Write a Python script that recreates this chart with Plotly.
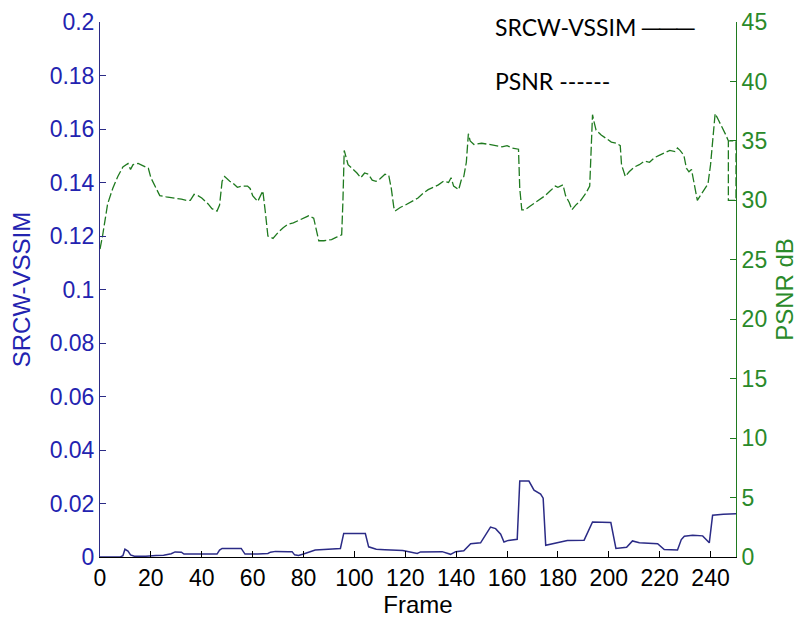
import plotly.graph_objects as go

# SRCW-VSSIM (left axis)
vssim_frames = [0, 8, 9, 9.8, 11, 12, 13.5, 18, 22, 25, 28, 29.5, 32, 33, 40, 46, 47, 48, 55.5, 57,
                62, 66, 67, 69, 74, 75.5, 76.5, 78, 80, 82, 84.6, 88, 92, 94.5, 95.8, 104.3, 105.6,
                108.6, 112, 116, 119, 121.4, 124.7, 126, 130, 134.5, 137.8, 139.8, 143, 145.7, 149.6,
                151.5, 153.5, 155.5, 157.5, 158.8, 160.5, 164, 165, 168.6, 170.6, 173.2, 174.2, 175.2,
                179.8, 181, 183.7, 190.3, 192, 193.6, 200.8, 202.8, 207, 209.3, 212, 219.2, 221.8, 227,
                228.5, 229.7, 233, 236.9, 239.5, 240.8, 245, 249.3, 250]
vssim_values = [0, 0, 0.0005, 0.0029, 0.0022, 0.0008, 0.0003, 0.0003, 0.0006, 0.0007, 0.0012, 0.0019,
                0.0018, 0.0011, 0.0011, 0.0011, 0.0026, 0.0032, 0.0032, 0.0011, 0.0011, 0.0013, 0.0018,
                0.0021, 0.002, 0.002, 0.0008, 0.0006, 0.0011, 0.0018, 0.0026, 0.0028, 0.003, 0.0032,
                0.0088, 0.0088, 0.0038, 0.0029, 0.0027, 0.0026, 0.0024, 0.002, 0.0013, 0.0019, 0.002,
                0.002, 0.001, 0.002, 0.0023, 0.005, 0.0053, 0.008, 0.0112, 0.0106, 0.0085, 0.0056,
                0.0062, 0.0066, 0.0284, 0.0284, 0.025, 0.0235, 0.022, 0.0044, 0.0053, 0.0058, 0.0062,
                0.0063, 0.01, 0.0131, 0.0129, 0.0032, 0.0036, 0.006, 0.0053, 0.005, 0.0028, 0.0026,
                0.0065, 0.0078, 0.0081, 0.0079, 0.0053, 0.0156, 0.016, 0.0162, 0.0162]

# PSNR dB (right axis)
psnr_frames = [0, 1, 3, 5, 7, 9, 11, 12, 13, 15, 17, 19, 20, 22, 23.5, 26, 28, 30, 32, 34, 35.5, 37,
               38.5, 40, 42.5, 44, 46, 47, 48, 49, 51, 52, 54, 56, 58, 59, 60, 62, 63, 64, 65, 66, 68,
               70, 72, 74, 76, 78, 80, 82, 84, 85, 86, 88, 91, 93, 95, 95.5, 96, 96.5, 97.5, 99, 101,
               102.5, 104, 105.5, 107, 108.5, 110, 112, 113.5, 114.5, 115.5, 116, 118, 120, 123, 125,
               127, 129, 131, 133, 135, 137, 138, 139, 141, 142, 143, 144, 144.8, 145.5, 147, 150,
               153, 155, 158, 160, 162, 164.5, 165, 165.8, 167, 169, 171, 173, 175, 177, 179, 180,
               182, 183, 184.5, 185.5, 187, 189, 191, 192.5, 193, 193.6, 194.2, 195, 197, 198.5, 200,
               201, 203, 204.5, 205, 206.5, 208, 210, 212, 214, 216, 218, 220, 222, 224, 226, 227,
               228, 229.5, 230.5, 231.5, 232.5, 233, 234, 234.8, 236, 238, 239, 240, 241.2, 241.8,
               243, 244.5, 246, 247, 250, 250, 247, 247]
psnr_values = [25.9, 27, 29.7, 31, 32, 32.8, 33.1, 32.6, 33.0, 33.1, 32.9, 32.7, 31.9, 31, 30.4, 30.3,
               30.25, 30.2, 30.1, 30, 30, 30.5, 30.4, 30.2, 29.7, 29.3, 29.1, 29.6, 31.6, 32, 31.6,
               31.5, 31.1, 31.2, 31.2, 31, 30.4, 29.9, 30.3, 30.8, 29, 27, 26.8, 27.3, 27.7, 28, 28.1,
               28.3, 28.5, 28.7, 28.5, 27.5, 26.6, 26.6, 26.7, 26.9, 27.1, 30, 34.2, 33.8, 33, 32.7,
               32.3, 31.9, 32.3, 32.2, 31.7, 31.6, 31.8, 32.2, 32.1, 31, 29.4, 29.1, 29.4, 29.6, 30,
               30.2, 30.6, 30.9, 31.1, 31.3, 31.6, 31.5, 31.9, 31.2, 30.9, 31.7, 32, 33.2, 35.6, 35,
               34.7, 34.8, 34.7, 34.6, 34.5, 34.6, 34.4, 34.3, 31, 29.2, 29.2, 29.5, 29.8, 30.1, 30.4,
               30.8, 31.2, 31.1, 31.3, 30.4, 29.8, 29.2, 29.6, 30, 30.6, 31.2, 34, 37.2, 36.6, 35.9,
               35.5, 35.3, 35.1, 34.9, 34.8, 34.6, 33, 32, 32.4, 32.8, 33, 33.3, 33.2, 33.6, 33.8, 34,
               34.2, 34.1, 34.4, 34.2, 33.8, 32.7, 32.4, 32.6, 32.1, 31, 30, 30.4, 31, 31.4, 33, 36,
               37.3, 36.8, 36.2, 35.5, 35, 35, 30, 30, 35]

x_ticks = [0, 20, 40, 60, 80, 100, 120, 140, 160, 180, 200, 220, 240]
y1_ticks = [0, 0.02, 0.04, 0.06, 0.08, 0.1, 0.12, 0.14, 0.16, 0.18, 0.2]
y1_labels = ["0", "0.02", "0.04", "0.06", "0.08", "0.1", "0.12", "0.14", "0.16", "0.18", "0.2"]
y2_ticks = [0, 5, 10, 15, 20, 25, 30, 35, 40, 45]

NAVY = "#2b2b86"
BLUE = "#2323b0"
GREEN = "#1f7a1f"
GREEN_TXT = "#2a8a2a"
FONT = "Liberation Sans"

fig = go.Figure()
fig.add_trace(go.Scatter(x=vssim_frames, y=vssim_values, mode="lines",
                         line=dict(color=NAVY, width=1.5), name="SRCW-VSSIM"))
fig.add_trace(go.Scatter(x=psnr_frames, y=psnr_values, mode="lines", yaxis="y2",
                         line=dict(color=GREEN, width=1.3, dash="9px,3px"), name="PSNR"))

fig.update_layout(
    width=794, height=621,
    margin=dict(l=92, r=66, t=14, b=72, autoexpand=False),
    plot_bgcolor="white", paper_bgcolor="white",
    showlegend=False,
    xaxis=dict(range=[0, 250], tickvals=x_ticks, ticks="inside", ticklen=6, tickcolor="black",
               showline=True, linecolor="black", linewidth=1, showgrid=False, zeroline=False,
               automargin=False,
               tickfont=dict(family=FONT, size=23, color="black"),
               title=dict(text="Frame", font=dict(family=FONT, size=24, color="black"), standoff=5)),
    yaxis=dict(range=[0, 0.2], tickvals=y1_ticks, ticktext=y1_labels, ticks="inside", ticklen=6,
               tickcolor=NAVY, showline=True, linecolor=NAVY, linewidth=1, showgrid=False,
               zeroline=False, automargin=False, tickfont=dict(family=FONT, size=23, color=BLUE),
               title=dict(text="SRCW-VSSIM", font=dict(family=FONT, size=24, color=BLUE), standoff=16)),
    yaxis2=dict(range=[0, 45], tickvals=y2_ticks, overlaying="y", side="right", ticks="inside",
                ticklen=6, tickcolor=GREEN, showline=True, linecolor=GREEN, linewidth=1,
                showgrid=False, zeroline=False, automargin=False,
                tickfont=dict(family=FONT, size=23, color=GREEN_TXT),
                title=dict(text="PSNR dB", font=dict(family=FONT, size=24, color=GREEN_TXT), standoff=10)),
    annotations=[
        dict(text="SRCW-VSSIM ───", xref="paper", yref="paper", x=0.618, y=0.99,
             xanchor="left", yanchor="middle", showarrow=False,
             font=dict(family="Lato", size=23, color="black")),
        dict(text="PSNR ------", xref="paper", yref="paper", x=0.618, y=0.889,
             xanchor="left", yanchor="middle", showarrow=False,
             font=dict(family="Lato", size=23, color="black")),
    ],
)

fig.write_html("out.html")
